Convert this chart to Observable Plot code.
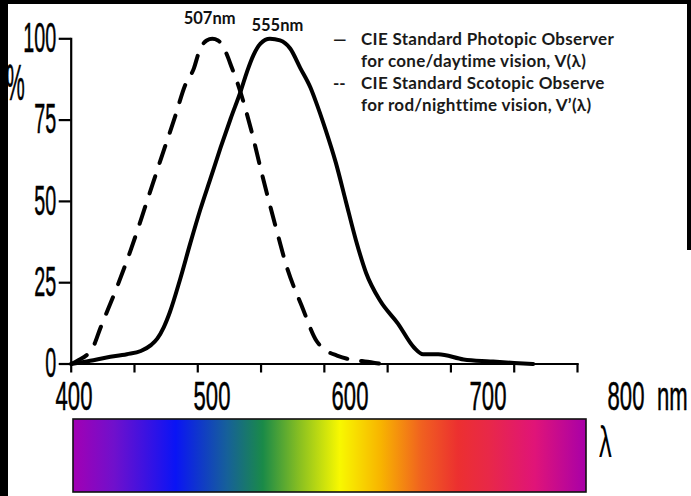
<!DOCTYPE html>
<html><head><meta charset="utf-8">
<script src="https://cdn.jsdelivr.net/npm/d3@7"></script>
<script src="https://cdn.jsdelivr.net/npm/@observablehq/plot@0.6"></script>
<style>
html,body{margin:0;padding:0;background:#fff;}
#wrap{position:relative;width:691px;height:496px;overflow:hidden;background:#fff;}
#wrap > *{position:absolute;}
.border{background:#000;z-index:10;}
#legend{left:333px;top:28px;font-family:Lato,"Open Sans",sans-serif;font-weight:700;font-size:17px;letter-spacing:0.3px;color:#1a1a1a;line-height:22px;white-space:nowrap;}
#legend .row{display:flex;}
#legend .mk{width:28px;letter-spacing:0;}
#lambda{left:599px;top:419px;font-family:"Liberation Sans",sans-serif;font-size:34px;line-height:34px;transform:scale(0.75,1.3);transform-origin:left top;}
#ylabel{left:6px;top:58px;font-family:"Liberation Sans",sans-serif;font-size:34px;line-height:34px;transform:scale(0.62,1.45);transform-origin:left top;-webkit-text-stroke:0.4px #000;}
.thick text{stroke:#000;stroke-width:0.45px;}
</style>
</head><body>
<div id="wrap">
  <div id="main" style="left:0;top:0"></div>
  <div id="xlab" class="thick" style="left:0;top:366.5px"></div>
  <div id="bar" style="left:70.5px;top:417px"></div>
  <div id="legend"></div>
  <div id="lambda">λ</div>
  <div id="ylabel"></div>
  <div class="border" style="left:0;top:0;width:8px;height:496px"></div>
  <div class="border" style="left:0;top:0;width:691px;height:4px"></div>
  <div class="border" style="left:687px;top:0;width:4px;height:250px"></div>
</div>
<script>
// ---- data ----
const photopicNm = [400,415,428,444,455,463,468,473,478,486,494,502,510,518,526,534,539,544,549.5,557,565,573,581,589,593,601,609,617,625,633,644,658,671,678,690,710,731,750,765];
const photopicV  = [0,1,2,3,4,5.8,7.8,11.2,16,26,37,47.5,57,66.5,75.5,84,90,95,98.5,100,99.5,97,91,85,81,72,62,50,38,28,19.5,12.5,5,3,3,1.4,0.8,0.3,0];
const scotopicNm = [400,405,417,423,436,447,459,470.5,482,490,497,501,507,511.5,516,522,527,532,541.5,551,561,571,582,594,602,610,618,627,632,645];
const scotopicV  = [0,1,5,11,23.5,35,49,62.6,76,85.7,91,96,99.5,100,99.5,96,91,85.7,73,58,43,29,18,7,4,2.6,1.6,1,0.8,0];
const peakLabels = ["507nm","555nm"];
const peakNm = [507,555];
const xDomain = [400,800];
const yDomain = [0,100];
const xTicks = [400,450,500,550,600,650,700,750,800];
const xLabels = [400,500,600,700,800];
const xUnit = "nm";
const yTicks = [0,25,50,75,100];
const yUnit = "%";
const legendItems = [
  {mark:"—", lines:["CIE Standard Photopic Observer","for cone/daytime vision, V(λ)"]},
  {mark:"--", lines:["CIE Standard Scotopic Observe","for rod/nighttime vision, V’(λ)"]}
];
const spectrumOffsets = [0,0.08,0.2,0.3,0.37,0.44,0.52,0.6,0.68,0.75,0.81,0.9,1];
const spectrumColors = ["#a200b4","#7010cc","#0a14f5","#16609a","#1a8a48","#86be22","#f8f800","#f8b400","#f06020","#ec3030","#e82848","#e01478","#a800a8"];

const photopic = photopicNm.map((nm,i)=>({nm, v: photopicV[i]}));
const scotopic = scotopicNm.map((nm,i)=>({nm, v: scotopicV[i]}));
const peaks = peakLabels.map((label,i)=>({label, nm: peakNm[i]}));

const narrow = "'Liberation Sans', Arial, sans-serif";

function num(v) { return (v != null && /^-?[\d.]+(px)?$/.test(String(v).trim())) ? parseFloat(v) : null; }
function stretch(nodes, sx, sy) {
  nodes.each(function() {
    const t = d3.select(this);
    const x = num(t.attr("x")), y = num(t.attr("y"));
    if (x !== null) t.attr("x", null);
    if (y !== null) t.attr("y", null);
    const tr = t.attr("transform") || "";
    t.attr("transform", `${tr} translate(${x || 0},${y || 0}) scale(${sx},${sy})`);
  });
}

const main = Plot.plot({
  width: 691, height: 496,
  marginLeft: 70.7, marginRight: 114, marginTop: 38.3, marginBottom: 132.5,
  style: {background: "transparent", fontFamily: narrow, fontSize: "34px", color: "#000", strokeWidth: "2.2px", overflow: "visible"},
  x: {domain: xDomain, ticks: xTicks, tickFormat: () => "", tickSize: 9, line: true, label: null},
  y: {domain: yDomain, ticks: yTicks, tickSize: 12, tickPadding: 3, line: true, label: null},
  marks: [
    Plot.line(scotopic, {x: "nm", y: "v", curve: "monotone-x", stroke: "#000", strokeWidth: 4, strokeDasharray: "18,14"}),
    Plot.line(photopic, {x: "nm", y: "v", curve: "monotone-x", stroke: "#000", strokeWidth: 4}),
    Plot.text(peaks.slice(0,1), {x: "nm", y: 100, text: "label", lineAnchor: "bottom", dx: 3, dy: -15, fontSize: 16.5, fontWeight: "bold", fontFamily: "Lato, sans-serif", fill: "#111"}),
    Plot.text(peaks.slice(1), {x: "nm", y: 100, text: "label", lineAnchor: "bottom", dx: 10, dy: -8, fontSize: 16.5, fontWeight: "bold", fontFamily: "Lato, sans-serif", fill: "#111"})
  ]
});
document.getElementById("main").append(main);
const yLabs = d3.select(main).selectAll('g[aria-label^="y-axis"] text');
yLabs.attr("stroke", "#000").attr("stroke-width", 0.45);
stretch(yLabs, 0.58, 1.23);

const xlab = Plot.plot({
  width: 691, height: 60, marginLeft: 73.5, marginRight: 65.5, marginTop: 0, marginBottom: 0,
  style: {background: "transparent", fontFamily: narrow, color: "#000", overflow: "visible"},
  x: {domain: xDomain, axis: null},
  marks: [
    Plot.text(xLabels, {x: d => d, text: d => String(d), frameAnchor: "middle", fontSize: 34}),
    Plot.text([xUnit], {x: xDomain[1], text: d => d, frameAnchor: "middle", textAnchor: "start", dx: 31, fontSize: 34})
  ]
});
document.getElementById("xlab").append(xlab);
stretch(d3.select(xlab).selectAll("text"), 0.65, 1.19);

const bar = Plot.plot({
  width: 516, height: 76, margin: 1.5,
  style: {background: "transparent", overflow: "visible"},
  marks: [Plot.frame({fill: "url(#spectrum)", stroke: "#111", strokeWidth: 1.6})]
});
const grad = d3.select(bar).insert("defs", ":first-child").append("linearGradient").attr("id", "spectrum").attr("x1", 0).attr("x2", 1).attr("y1", 0).attr("y2", 0);
spectrumOffsets.forEach((o,i) => grad.append("stop").attr("offset", o).attr("stop-color", spectrumColors[i]));
document.getElementById("bar").append(bar);

d3.select("#ylabel").text(yUnit);

const lg = d3.select("#legend");
legendItems.forEach(item => {
  item.lines.forEach((line, j) => {
    const row = lg.append("div").attr("class", "row");
    row.append("span").attr("class", "mk").text(j === 0 ? item.mark : "");
    row.append("span").text(line);
  });
});
</script>
</body></html>
